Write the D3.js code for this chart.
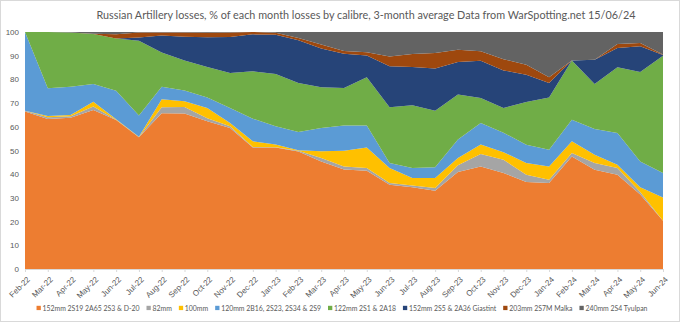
<!DOCTYPE html>
<html>
<head>
<meta charset="utf-8">
<script src="https://cdn.jsdelivr.net/npm/d3@7"></script>
<style>
  body { margin: 0; background: #fff; }
  svg { display: block; font-family: Lato, "Open Sans", sans-serif; }
</style>
</head>
<body>
<svg id="chart" width="680" height="322"></svg>
<script>
// months on the category axis
const months = ["Feb-22", "Mar-22", "Apr-22", "May-22", "Jun-22", "Jul-22", "Aug-22", "Sep-22", "Oct-22", "Nov-22",
  "Dec-22", "Jan-23", "Feb-23", "Mar-23", "Apr-23", "May-23", "Jun-23", "Jul-23", "Aug-23", "Sep-23",
  "Oct-23", "Nov-23", "Dec-23", "Jan-24", "Feb-24", "Mar-24", "Apr-24", "May-24", "Jun-24"];

// % share of each calibre
const s152_2S19 = [66.5, 63.3, 63.8, 67.1, 62.9, 55.6, 65.7, 65.6, 62.3, 59.5, 51.3, 51.3, 49.6, 45.4, 42.0, 41.5, 35.6, 34.5, 33.0, 40.9, 43.3, 40.5, 36.7, 36.3, 47.5, 41.9, 39.8, 31.4, 20.4];
const s82 = [0.3, 0.7, 0.6, 1.5, 0.1, 0.1, 2.5, 2.8, 1.3, 0.7, 0.2, 0.1, 0.3, 1.4, 1.3, 1.1, 0.7, 0.7, 1.2, 2.9, 5.2, 5.6, 3.1, 1.4, 1.4, 2.8, 2.8, 1.1, 0.0];
const s100 = [0.0, 0.6, 0.6, 2.0, 0.2, 0.1, 3.4, 2.4, 4.3, 1.4, 2.4, 1.1, 0.2, 2.9, 6.6, 8.7, 6.3, 3.2, 4.2, 3.0, 4.0, 3.2, 4.9, 5.6, 5.0, 3.5, 1.4, 2.0, 9.8];
const s120 = [33.2, 11.7, 11.9, 7.5, 12.0, 9.0, 5.3, 4.5, 4.5, 6.3, 9.5, 7.7, 7.7, 9.8, 10.7, 9.3, 2.1, 4.2, 4.5, 7.8, 9.1, 8.2, 7.7, 7.0, 9.1, 10.9, 13.4, 10.9, 10.3];
const s122 = [0.0, 23.7, 22.9, 21.1, 22.1, 31.5, 14.5, 12.7, 12.8, 14.8, 20.0, 22.1, 20.7, 17.2, 15.8, 20.3, 23.5, 26.5, 23.9, 19.0, 10.6, 10.4, 18.1, 22.1, 25.0, 19.0, 27.7, 37.7, 49.5];
const s152_2S5 = [0.0, 0.0, 0.0, 0.0, 0.0, 1.4, 7.1, 10.0, 12.6, 15.2, 15.6, 16.5, 18.0, 16.3, 14.4, 9.2, 17.4, 16.1, 17.8, 13.7, 15.7, 15.9, 11.5, 6.1, 0.0, 10.2, 8.1, 10.9, 0.3];
const s203 = [0.0, 0.0, 0.0, 0.1, 1.7, 2.1, 1.3, 1.8, 1.9, 1.9, 1.0, 0.9, 1.0, 1.7, 1.2, 1.4, 4.1, 5.5, 6.5, 5.2, 4.0, 4.7, 4.2, 2.4, 0.0, 0.0, 1.7, 1.4, 0.2];
const s240 = [0.0, 0.0, 0.2, 0.7, 1.0, 0.2, 0.2, 0.2, 0.3, 0.2, 0.0, 0.3, 2.5, 5.3, 8.0, 8.5, 10.3, 9.3, 8.9, 7.5, 8.1, 11.5, 13.8, 19.1, 12.0, 11.7, 5.1, 4.6, 9.5];

const seriesNames = ["152mm 2S19 2A65 2S3 & D-20", "82mm", "100mm", "120mm 2B16, 2S23, 2S34 & 2S9",
  "122mm 2S1 & 2A18", "152mm 2S5 & 2A36 Giastint", "203mm 2S7M Malka", "240mm 2S4 Tyulpan"];
const seriesValues = [s152_2S19, s82, s100, s120, s122, s152_2S5, s203, s240];
const colors = ["#ED7D31", "#A5A5A5", "#FFC000", "#5B9BD5", "#70AD47", "#264478", "#9E480E", "#636363"];
const yTicks = [0, 10, 20, 30, 40, 50, 60, 70, 80, 90, 100];

const title = "Russian Artillery losses, % of each month losses by calibre, 3-month average Data from WarSpotting.net 15/06/24";

// build rows for d3.stack
const rows = months.map((m, i) => {
  const row = { month: m };
  seriesNames.forEach((name, k) => row[name] = seriesValues[k][i]);
  return row;
});

const svg = d3.select("#chart");

// outer border
svg.append("rect")
  .attr("x", 0.5).attr("y", 0.5)
  .attr("width", 679).attr("height", 321)
  .attr("fill", "#fff")
  .attr("stroke", "#d9d9d9");

const plotLeft = 25, plotRight = 663, plotTop = 32, plotBottom = 269;

const xScale = d3.scalePoint()
  .domain(months)
  .range([plotLeft, plotRight]);

const yScale = d3.scaleLinear()
  .domain([0, 100])
  .range([plotBottom, plotTop]);

const stacked = d3.stack()
  .keys(seriesNames)(rows);

const area = d3.area()
  .x(d => xScale(d.data.month))
  .y0(d => yScale(d[0]))
  .y1(d => yScale(d[1]));

svg.append("g")
  .selectAll("path")
  .data(stacked)
  .join("path")
    .attr("d", area)
    .attr("fill", (d, i) => colors[i]);

// y axis, labels only
const yAxis = svg.append("g")
  .attr("transform", `translate(${plotLeft},0)`)
  .call(d3.axisLeft(yScale).tickValues(yTicks).tickSize(0).tickPadding(6));
yAxis.select(".domain").remove();
yAxis.selectAll("text")
  .attr("fill", "#595959")
  .style("font-size", "8px");

// x axis with rotated month labels
const xAxis = svg.append("g")
  .attr("transform", `translate(0,${plotBottom})`)
  .call(d3.axisBottom(xScale).tickSize(3));
xAxis.select(".domain").attr("stroke", "#d9d9d9");
xAxis.selectAll(".tick line").attr("stroke", "#d9d9d9");
xAxis.selectAll("text")
  .attr("fill", "#595959")
  .style("font-size", "8px")
  .attr("x", 0)
  .attr("y", 0)
  .attr("dy", "0.35em")
  .attr("text-anchor", "end")
  .attr("transform", "translate(3,9) rotate(-45)");

// title
svg.append("text")
  .attr("x", 366)
  .attr("y", 19)
  .attr("text-anchor", "middle")
  .attr("fill", "#595959")
  .attr("textLength", 539)
  .attr("lengthAdjust", "spacingAndGlyphs")
  .style("font-size", "11.5px")
  .text(title);

// legend, laid out from measured text widths
const legend = svg.append("g").attr("transform", "translate(0,309)");
let lx = 0;
seriesNames.forEach((name, i) => {
  const g = legend.append("g");
  g.append("rect")
    .attr("x", 0).attr("y", -3.2)
    .attr("width", 4.3).attr("height", 4.3)
    .attr("fill", colors[i]);
  const t = g.append("text")
    .attr("x", 6).attr("y", 0)
    .attr("dy", "0.32em")
    .attr("fill", "#595959")
    .style("font-size", "6.9px")
    .text(name);
  const w = 6 + t.node().getComputedTextLength();
  g.attr("transform", `translate(${lx},0)`);
  lx += w + 7;
});
const total = lx - 7;
legend.attr("transform", `translate(${342 - total / 2},309)`);
</script>
</body>
</html>
